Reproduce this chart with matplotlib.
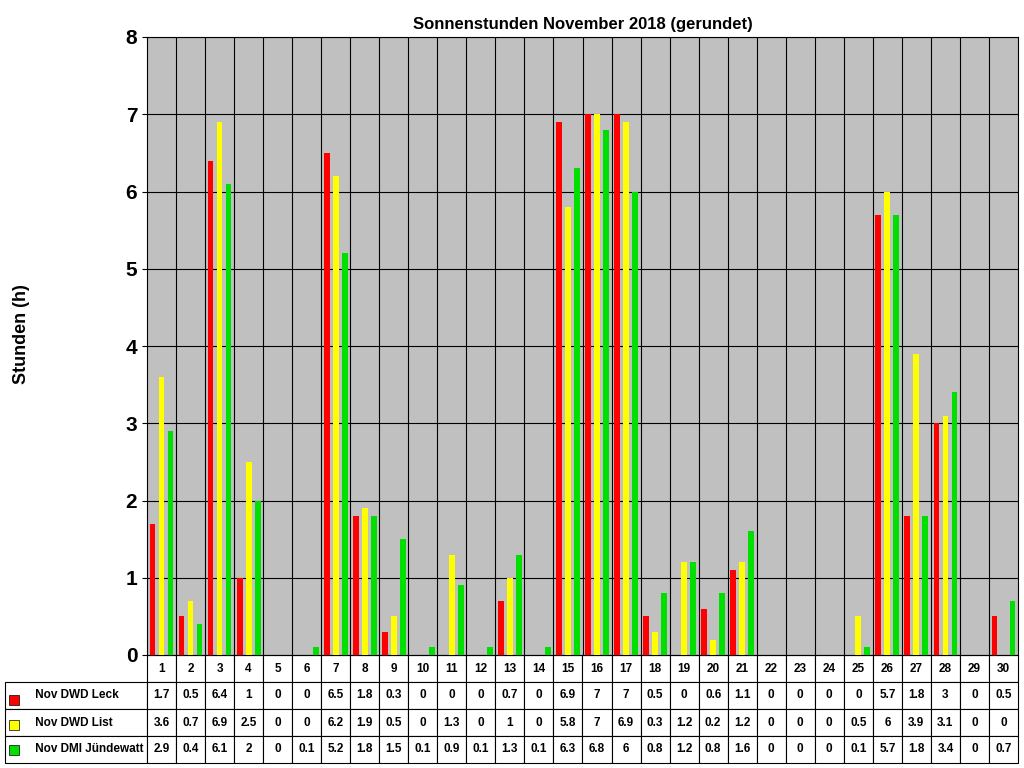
import matplotlib
matplotlib.use("Agg")
import matplotlib.pyplot as plt
import numpy as np

days = list(range(1, 31))
leck = [1.7,0.5,6.4,1,0,0,6.5,1.8,0.3,0,0,0,0.7,0,6.9,7,7,0.5,0,0.6,1.1,0,0,0,0,5.7,1.8,3,0,0.5]
lst  = [3.6,0.7,6.9,2.5,0,0,6.2,1.9,0.5,0,1.3,0,1,0,5.8,7,6.9,0.3,1.2,0.2,1.2,0,0,0,0.5,6,3.9,3.1,0,0]
dmi  = [2.9,0.4,6.1,2,0,0.1,5.2,1.8,1.5,0.1,0.9,0.1,1.3,0.1,6.3,6.8,6,0.8,1.2,0.8,1.6,0,0,0,0.1,5.7,1.8,3.4,0,0.7]
names = ["Nov DWD Leck", "Nov DWD List", "Nov DMI Jündewatt"]
colors = ["#FF0000", "#FFFF00", "#00E000"]
series = [leck, lst, dmi]

plt.rcParams['font.family'] = ['Liberation Sans', 'DejaVu Sans']
fig = plt.figure(figsize=(10.24, 7.68), dpi=100)
ax = fig.add_axes([147/1024, 113/768, 871/1024, 618/768])
ax.set_facecolor("#C0C0C0")
x = np.arange(len(days))
for i, (s, c) in enumerate(zip(series, colors)):
    ax.bar(x + (i - 1) * 0.31, s, width=0.2, color=c, zorder=3)
ax.set_xlim(-0.5, len(days) - 0.5)
ax.set_ylim(0, 8)
ax.set_yticks(range(9))
ax.set_yticklabels([str(v) for v in range(9)], fontsize=15, fontweight='bold')
ax.set_xticks([])
for y in range(1, 9):
    ax.axhline(y, color='black', lw=0.8, zorder=1)
for xv in x[:-1]:
    ax.axvline(xv + 0.5, color='black', lw=0.8, zorder=1)
for sp in ax.spines.values():
    sp.set_color('black')
ax.set_title("Sonnenstunden November 2018 (gerundet)", fontsize=12, fontweight='bold', pad=6)
fig.text(22/1024, 0.5 + 50/768, "Stunden (h)", rotation=90, va='center', ha='center',
         fontsize=13, fontweight='bold')

def fmt(v):
    return str(int(v)) if float(v).is_integer() else str(v)

rows = [[""] + [str(d) for d in days]]
for n, s in zip(names, series):
    rows.append(["     " + n] + [fmt(v) for v in s])
lw = 142 / 871
tbl = ax.table(cellText=rows, colWidths=[lw] + [1/30]*30,
               bbox=[-lw, -108/618, 1 + lw, 108/618], cellLoc='center')
tbl.auto_set_font_size(False)
tbl.set_fontsize(8.5)
for (r, c), cell in tbl.get_celld().items():
    cell.set_linewidth(0.8)
    cell.get_text().set_fontweight('bold')
    if c == 0:
        cell.get_text().set_ha('left')
        cell._loc = 'left'
    if r == 0 and c == 0:
        cell.set_edgecolor('white')
for i, c in enumerate(colors):
    yc = 768 - (700 + i * 25)
    fig.patches.append(plt.Rectangle(((9)/1024, (yc - 5)/768), 10/1024, 10/768,
                                     transform=fig.transFigure, facecolor=c,
                                     edgecolor='black', lw=0.5, figure=fig))
fig.savefig("out.png", dpi=100)
